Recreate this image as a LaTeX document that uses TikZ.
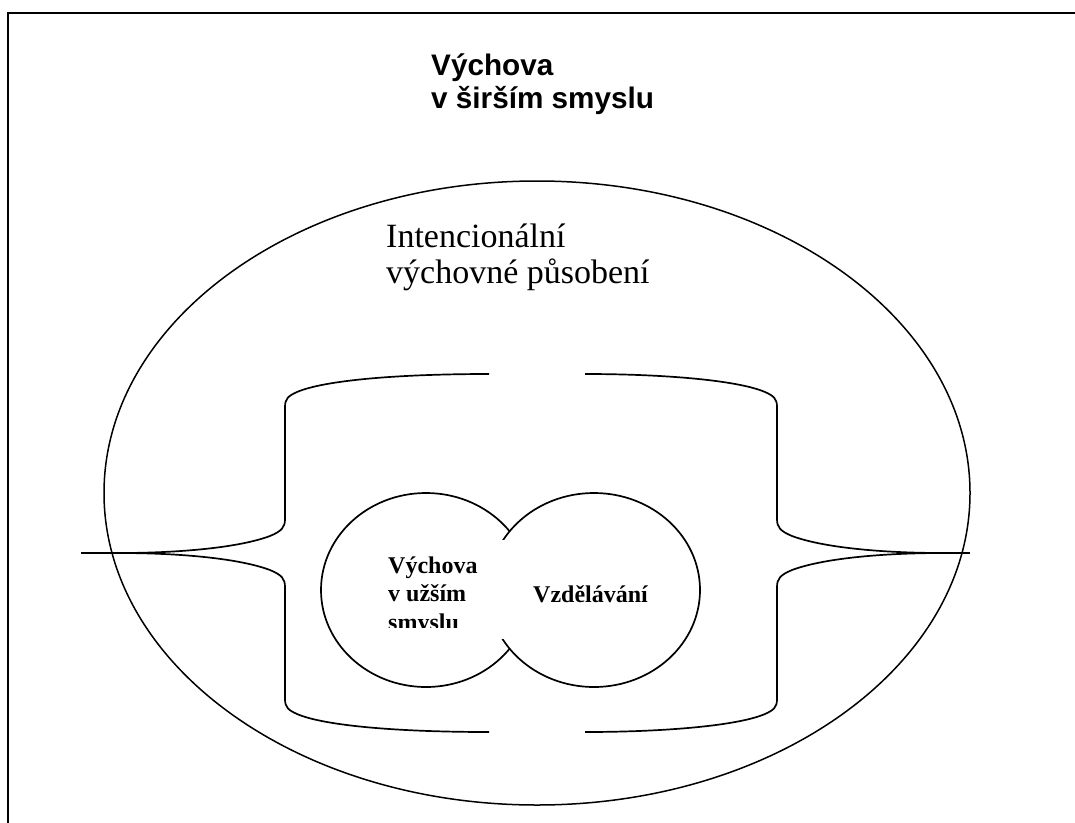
\documentclass[tikz,border=0pt]{standalone}
\usepackage{fontspec}
\setmainfont{Liberation Serif}
\newfontfamily\headfont{Liberation Sans}
\begin{document}
\begin{tikzpicture}[x=1pt,y=-1pt,
  frameline/.style={line width=2.4pt, line join=miter},
  outline/.style={line width=1.5pt},
  bracket/.style={line width=1.7pt, line join=round},
  bubble/.style={line width=1.7pt, fill=white},
  label/.style={inner sep=0pt, anchor=base west}]
\useasboundingbox (0,0) rectangle (1075,822);

% page frame (top and left edges)
\draw[frameline] (8,840) -- (8,13) -- (1090,13);

% outer ellipse
\draw[outline] (537,493) ellipse [x radius=433, y radius=312];

% left bracket
\coordinate (ltip) at (120,553);
\coordinate (lend) at (81,553);
\draw[bracket] (489,374) .. controls (400,374) and (325,380) .. (297,392)
  .. controls (288,396) and (285,399) .. (285,407) -- (285,519)
  .. controls (285,527) and (282,531) .. (270,536)
  .. controls (235,549) and (170,553) .. (ltip);
\draw[bracket] (ltip) .. controls (170,553) and (235,557) .. (270,570)
  .. controls (282,575) and (285,579) .. (285,587) -- (285,699)
  .. controls (285,707) and (288,710) .. (297,714)
  .. controls (325,726) and (400,732) .. (489,732);
\draw[bracket] (lend) -- (ltip);

% right bracket
\coordinate (rtip) at (942,553);
\coordinate (rend) at (970,553);
\draw[bracket] (585,374) .. controls (662,374) and (737,380) .. (765,392)
  .. controls (774,396) and (777,399) .. (777,407) -- (777,519)
  .. controls (777,527) and (780,531) .. (792,536)
  .. controls (827,549) and (892,553) .. (rtip);
\draw[bracket] (rtip) .. controls (892,553) and (827,557) .. (792,570)
  .. controls (780,575) and (777,579) .. (777,587) -- (777,699)
  .. controls (777,707) and (774,710) .. (765,714)
  .. controls (737,726) and (662,732) .. (585,732);
\draw[bracket] (rtip) -- (rend);

% overlapping inner circles
\draw[bubble] (426,590) ellipse [x radius=105, y radius=97];
\draw[bubble] (594,590) ellipse [x radius=106, y radius=97];

% text box of the left circle
\fill[white] (381,540) rectangle (507,639);
\begin{scope}
  \clip (381,540) rectangle (507,627);
  \node[label] (narrow) at (388,573)
    {\fontsize{24}{28.5}\selectfont\bfseries\vtop{\hbox{Výchova}\hbox{v užším}\hbox{smyslu}}};
\end{scope}

\node[label] (educ) at (533,602) {\fontsize{24}{28.5}\selectfont\bfseries Vzdělávání};

% headings
\node[label] (wide) at (431,75)
  {\headfont\bfseries\fontsize{29.7}{33}\selectfont\vtop{\hbox{Výchova}\hbox{v širším smyslu}}};
\node[label] (intent) at (386,247)
  {\fontsize{34}{36}\selectfont\vtop{\hbox{Intencionální}\hbox{výchovné působení}}};
\end{tikzpicture}
\end{document}
